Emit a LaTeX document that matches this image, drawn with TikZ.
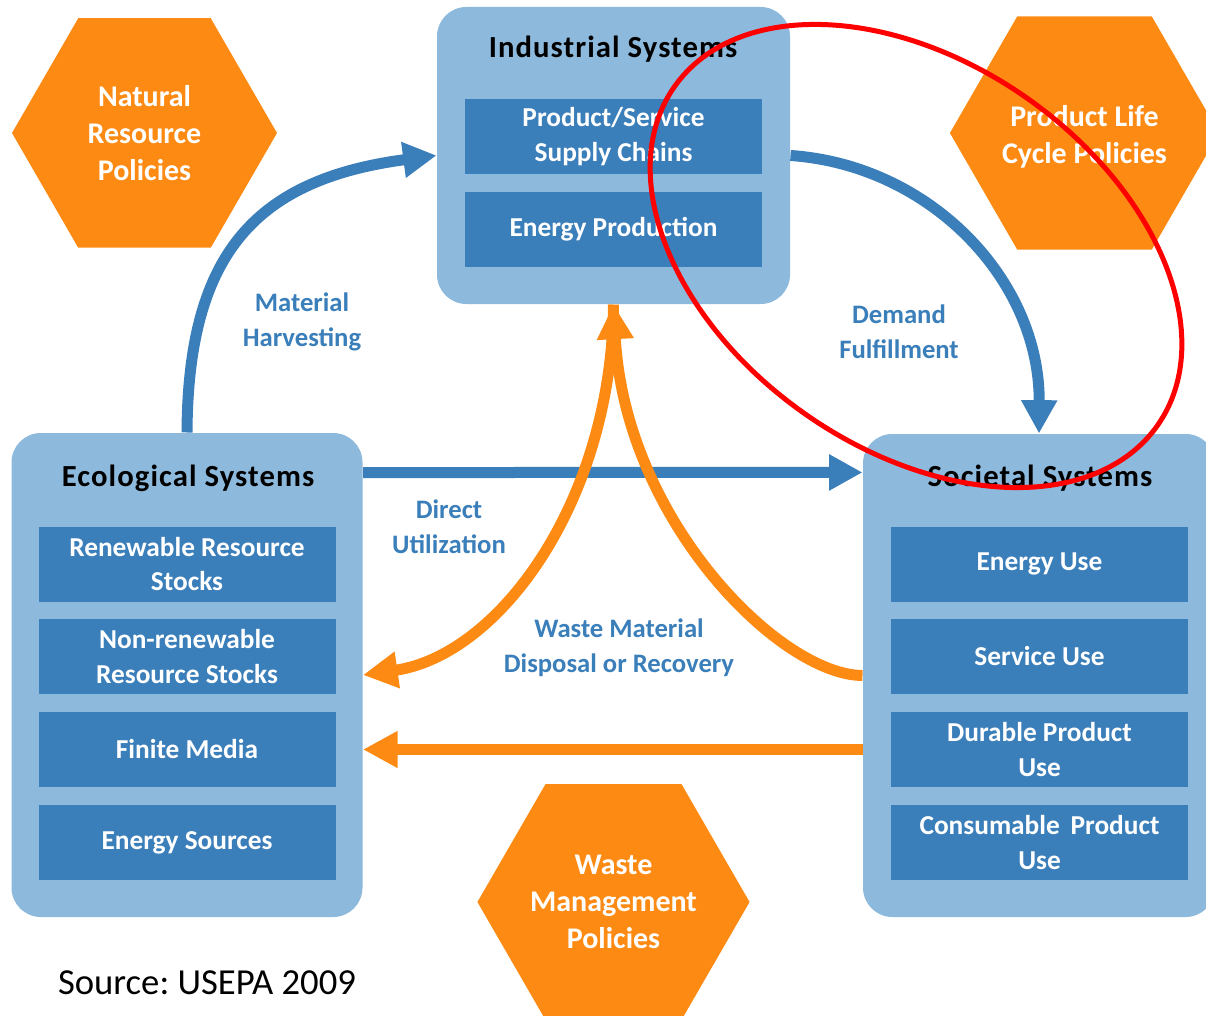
\documentclass[tikz,border=0pt]{standalone}
\usepackage{fontspec}
\setmainfont{Carlito}
\newfontfamily\ttlfam{Carlito}[LetterSpace=3.5]
\usetikzlibrary{arrows.meta,shapes.geometric}

\definecolor{sysbg}{RGB}{141,185,220}
\definecolor{subbox}{RGB}{58,126,186}
\definecolor{policy}{RGB}{253,138,19}
\definecolor{flowblue}{RGB}{58,126,186}

\newcommand\hexfont{\bfseries\fontsize{22.5}{27.75}\selectfont}
\newcommand\ttlfont{\ttlfam\bfseries\fontsize{23}{26}\selectfont}
\newcommand\subfont{\bfseries\fontsize{20.5}{26}\selectfont}
\newcommand\lblfont{\bfseries\fontsize{20}{26}\selectfont}

\tikzset{every picture/.style={line width=0.75pt}}
\tikzset{
  system/.style={fill=sysbg, rounded corners=22pt, inner sep=0pt},
  systitle/.style={font=\ttlfont, inner sep=0pt},
  sub/.style={fill=subbox, text=white, font=\subfont, align=center, inner sep=0pt, minimum width=222.75pt, minimum height=56.25pt},
  policyhex/.style={regular polygon, regular polygon sides=6, minimum size=198.75pt, inner sep=0pt, fill=policy, text=white, font=\hexfont, align=center},
  flowlbl/.style={text=flowblue, font=\lblfont, align=center, inner sep=0pt},
  blueflow/.style={draw=flowblue, line width=8.25pt, -{Triangle[length=25pt,width=25.5pt]}},
  orangeflow/.style={draw=policy, line width=8.25pt, -{Triangle[length=26pt,width=26pt]}},
}

\begin{document}
\begin{tikzpicture}[x=0.75pt,y=0.75pt,yscale=-1,xscale=1]
\useasboundingbox (0,0) rectangle (1206,1016);
\clip (0,0) rectangle (1206,1016);

%Shape: Hexagons
\node (natpol) at (144.5,133) [policyhex] {Natural\\Resource\\Policies};
\node (lcpol) at (1084.5,133) [policyhex] {\rule{0pt}{21pt}Product Life\\Cycle Policies};
\node (wastepol) at (613.5,902) [policyhex] {Waste\\Management\\Policies};

%Shape: Rounded Rect (systems)
\node (ind) at (613.5,155.5) [system, minimum width=264.75pt, minimum height=222.75pt] {};
\node (eco) at (187,675) [system, minimum width=263.25pt, minimum height=363pt] {};
\node (soc) at (1039,675.5) [system, minimum width=264pt, minimum height=362.25pt] {};

% Text Node
\node (indttl) at (613,49) [systitle] {Industrial Systems};
\node (ecottl) at (188,478) [systitle] {Ecological Systems};
\node (socttl) at (1040,478) [systitle] {Societal Systems};

%Shape: Rect (sub-systems)
\node (supply) at (613.5,136.5) [sub] {Product/Service\\Supply Chains};
\node (enprod) at (613.5,229.5) [sub] {Energy Production};

\node (renew) at (187,564) [sub] {Renewable Resource\\Stocks};
\node (nonrenew) at (187,656.5) [sub] {Non-renewable\\Resource Stocks};
\node (finite) at (187,749.5) [sub] {Finite Media};
\node (ensrc) at (187,842.5) [sub] {Energy Sources};

\node (enuse) at (1039.5,564) [sub] {Energy Use};
\node (servuse) at (1039.5,656.5) [sub] {Service Use};
\node (duruse) at (1039.5,749.5) [sub] {Durable Product\\Use};
\node (consuse) at (1039.5,842.5) [sub] {Consumable\, Product\\Use};

%Straight Lines / Curves (flows)
\draw [blueflow] (eco.north) .. controls (188,260) and (250,180) .. (ind.west);
\draw [blueflow] (ind.east) .. controls (930,165) and (1040,280) .. (soc.north);
\draw [blueflow] (eco.49) -- (soc.131);
\draw [orangeflow] (ind.south) .. controls (612,500) and (500,655) .. (eco.east);
\draw [orangeflow] (soc.west) .. controls (780,675) and (625,520) .. (ind.south);
\draw [orangeflow] (soc.west |- finite) -- (eco.east |- finite);

% Text Node
\node (harvest) at (302,322) [flowlbl] {Material\\Harvesting};
\node (demand) at (899,332) [flowlbl] {Demand\\Fulfillment};
\node (direct) at (449,527) [flowlbl] {Direct\\Utilization};
\node (wastelbl) at (619,648) [flowlbl] {Waste Material\\Disposal or Recovery};
\node (source) at (207,983) [inner sep=0pt, font=\fontsize{27.5}{32}\selectfont] {Source:\ USEPA 2009};

%Shape: Ellipse
\draw [red, line width=3.75pt, rotate around={35:(916,256)}] (916,256) ellipse [x radius=295, y radius=193];

\end{tikzpicture}
\end{document}
